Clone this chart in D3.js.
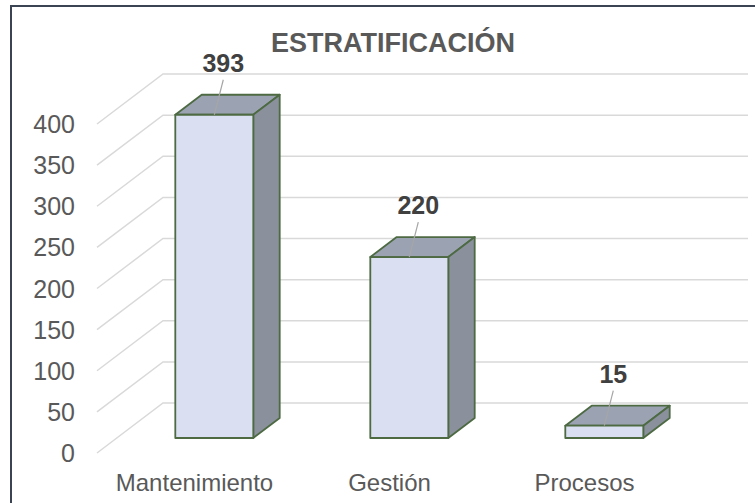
<!DOCTYPE html>
<html>
<head>
<meta charset="utf-8">
<script src="https://cdn.jsdelivr.net/npm/d3@7"></script>
<style>
  html, body { margin: 0; padding: 0; background: #fff; }
  svg { display: block; font-family: "Liberation Sans", Arial, sans-serif; }
</style>
</head>
<body>
<div id="chart"></div>
<script>
const categories = ["Mantenimiento", "Gestión", "Procesos"];
const values = [393, 220, 15];
const yTicks = [0, 50, 100, 150, 200, 250, 300, 350, 400];
const title = "ESTRATIFICACIÓN";

const width = 755, height = 503;
const floor = { dx: 66, dy: -50 };     // front-to-back offset of the floor
const barDepth = [0.3, 0.7];           // bar front / back as fraction of floor depth

const svg = d3.select("#chart").append("svg")
    .attr("width", width)
    .attr("height", height);

// frame (right and bottom edges fall outside the picture)
svg.append("rect")
    .attr("x", 11).attr("y", 6)
    .attr("width", 800).attr("height", 600)
    .attr("fill", "none")
    .attr("stroke", "#3b4452")
    .attr("stroke-width", 2);

const x = d3.scaleBand()
    .domain(categories)
    .range([97, 682])
    .paddingInner(0.6)
    .paddingOuter(0.3);

const y = d3.scaleLinear()
    .domain([0, 400])
    .range([453, 124]);

// gridlines: side wall diagonal + back wall horizontal
const grid = svg.append("g")
    .attr("fill", "none")
    .attr("stroke", "#d9d9d9")
    .attr("stroke-width", 1.5);

grid.selectAll("path")
  .data(yTicks)
  .join("path")
    .attr("d", d => {
      const x0 = x.range()[0], x1 = x.range()[1];
      return `M${x0},${y(d)} L${x0 + floor.dx},${y(d) + floor.dy} L${x1 + floor.dx},${y(d) + floor.dy}`;
    });

// y tick labels
svg.append("g")
    .selectAll("text")
    .data(yTicks)
    .join("text")
      .attr("x", 75)
      .attr("y", d => y(d))
      .attr("dy", "0.36em")
      .attr("text-anchor", "end")
      .attr("font-size", 25)
      .attr("fill", "#595959")
      .text(d => d);

// bars as boxes
const fx = barDepth[0] * floor.dx, fy = barDepth[0] * floor.dy;
const ddx = (barDepth[1] - barDepth[0]) * floor.dx, ddy = (barDepth[1] - barDepth[0]) * floor.dy;

const bars = svg.append("g")
    .attr("stroke", "#4d6a43")
    .attr("stroke-width", 1.8)
    .attr("stroke-linejoin", "round")
  .selectAll("g")
  .data(categories.map((c, i) => ({ c, v: values[i] })))
  .join("g");

const pts = a => a.map(p => p.join(",")).join(" ");

bars.each(function(d) {
  const g = d3.select(this);
  const l = x(d.c) + fx, r = l + x.bandwidth();
  const t = y(d.v) + fy, b = y(0) + fy;
  g.append("polygon")
      .attr("fill", "#9ba3b2")
      .attr("points", pts([[l, t], [r, t], [r + ddx, t + ddy], [l + ddx, t + ddy]]));
  g.append("polygon")
      .attr("fill", "#8a909c")
      .attr("points", pts([[r, t], [r + ddx, t + ddy], [r + ddx, b + ddy], [r, b]]));
  g.append("rect")
      .attr("x", l).attr("y", t)
      .attr("width", r - l).attr("height", b - t)
      .attr("fill", "#dae0f1");
});

// data labels with leader lines
bars.each(function(d) {
  const g = d3.select(this);
  const cx = x(d.c) + fx + x.bandwidth() / 2;
  const t = y(d.v) + fy;
  g.append("line")
      .attr("x1", cx).attr("y1", t)
      .attr("x2", cx + 9).attr("y2", t - 35)
      .attr("stroke", "#a6a6a6")
      .attr("stroke-width", 1.2);
  g.append("text")
      .attr("x", cx + 9)
      .attr("y", t - 43)
      .attr("text-anchor", "middle")
      .attr("stroke", "none")
      .attr("font-size", 25)
      .attr("font-weight", "bold")
      .attr("fill", "#404040")
      .text(d.v);
});

// category labels
svg.append("g")
    .selectAll("text")
    .data(categories)
    .join("text")
      .attr("x", d => x(d) + x.bandwidth() / 2)
      .attr("y", 491)
      .attr("text-anchor", "middle")
      .attr("font-size", 24)
      .attr("fill", "#595959")
      .text(d => d);

svg.append("text")
    .attr("x", 393)
    .attr("y", 52)
    .attr("text-anchor", "middle")
    .attr("font-size", 27)
    .attr("font-weight", "bold")
    .attr("fill", "#595959")
    .text(title);
</script>
</body>
</html>
